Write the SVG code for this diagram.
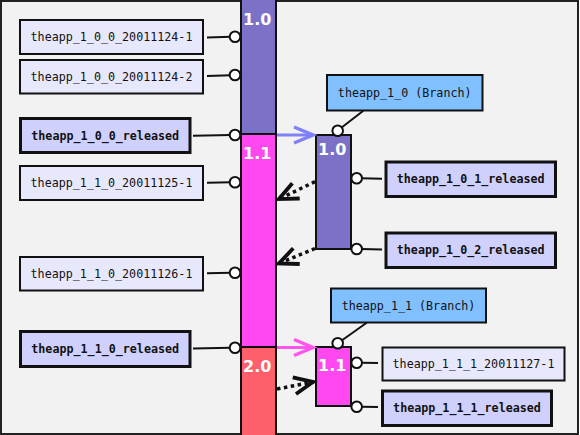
<svg xmlns="http://www.w3.org/2000/svg" width="580" height="435" viewBox="0 0 580 435">
<defs>
<style>
.bg{fill:#f2f2f2;stroke:#222;stroke-width:2}
.seg{stroke:#111;stroke-width:2}
.v10{fill:#7b72c8}
.v11{fill:#ff48f0}
.v20{fill:#ff5f6d}
.lbl{font-family:"DejaVu Sans",Verdana,sans-serif;font-weight:bold;font-size:16px;fill:#fff}
.tag{fill:#e8e8fc;stroke:#111;stroke-width:2}
.rel{fill:#d0d0fc;stroke:#111;stroke-width:3}
.br{fill:#80c0ff;stroke:#111;stroke-width:2}
.t{font-family:"DejaVu Sans Mono","Liberation Mono",monospace;font-size:11.7px;fill:#111;text-anchor:middle}
.tb{font-weight:bold}
.ln{stroke:#111;stroke-width:2;fill:none}
.pin{fill:#fff;stroke:#111;stroke-width:2}
.dot{stroke:#111;stroke-width:3.5;stroke-dasharray:3.5 3.5;fill:none}
</style>
<marker id="ahDot" markerUnits="userSpaceOnUse" markerWidth="40" markerHeight="40" viewBox="-20 -20 40 40" refX="0" refY="0" orient="auto" overflow="visible">
<path d="M-20,-8.5 L-1,0 L-20,8.5" fill="none" stroke="#111" stroke-width="3.8" stroke-linejoin="miter" stroke-miterlimit="10"/>
</marker>
<marker id="ahPurple" markerUnits="userSpaceOnUse" markerWidth="40" markerHeight="40" viewBox="-20 -20 40 40" refX="0" refY="0" orient="auto" overflow="visible">
<path d="M-19,-8 L0,0 L-19,8" fill="none" stroke="#8080f8" stroke-width="3.5"/>
</marker>
<marker id="ahMagenta" markerUnits="userSpaceOnUse" markerWidth="40" markerHeight="40" viewBox="-20 -20 40 40" refX="0" refY="0" orient="auto" overflow="visible">
<path d="M-19,-8 L0,0 L-19,8" fill="none" stroke="#ff55ee" stroke-width="3.5"/>
</marker>
</defs>
<rect class="bg" x="1" y="1" width="577" height="433"/>

<g id="trunk">
<g id="trunk-1.0"><rect class="seg v10" x="241" y="-3" width="35" height="137"/><text class="lbl" x="243" y="25">1.0</text></g>
<g id="trunk-1.1"><rect class="seg v11" x="241" y="134" width="35" height="213"/><text class="lbl" x="243" y="159">1.1</text></g>
<g id="trunk-2.0"><rect class="seg v20" x="241" y="347" width="35" height="92"/><text class="lbl" x="243" y="372">2.0</text></g>
</g>

<g id="branch-1.0"><rect class="seg v10" x="316" y="135" width="35" height="114"/><text class="lbl" x="318" y="155">1.0</text></g>
<g id="branch-1.1"><rect class="seg v11" x="316" y="347" width="35" height="59"/><text class="lbl" x="318" y="371">1.1</text></g>

<g id="connectors">
<line class="ln" x1="207" y1="37.4" x2="231" y2="36.8"/>
<line class="ln" x1="207" y1="76" x2="231" y2="75.2"/>
<line class="ln" x1="193" y1="135.8" x2="231" y2="135"/>
<line class="ln" x1="207" y1="182.8" x2="231" y2="182.2"/>
<line class="ln" x1="207" y1="273.3" x2="231" y2="272.7"/>
<line class="ln" x1="193" y1="348.5" x2="231" y2="347.7"/>
<line class="ln" x1="363.3" y1="110.7" x2="341" y2="128"/>
<line class="ln" x1="361" y1="178.3" x2="382" y2="178.8"/>
<line class="ln" x1="361" y1="249" x2="382" y2="249.6"/>
<line class="ln" x1="366.7" y1="322.7" x2="341" y2="341"/>
<line class="ln" x1="361" y1="362.7" x2="378" y2="363"/>
<line class="ln" x1="361" y1="406.7" x2="378" y2="407"/>
<line x1="277" y1="135" x2="313" y2="135" stroke="#8080f8" stroke-width="3" marker-end="url(#ahPurple)"/>
<line x1="277" y1="347.5" x2="313" y2="347.5" stroke="#ff55ee" stroke-width="3" marker-end="url(#ahMagenta)"/>
<line class="dot" x1="315" y1="181.7" x2="278" y2="199.5" marker-end="url(#ahDot)"/>
<line class="dot" x1="315" y1="248.5" x2="278" y2="263.8" marker-end="url(#ahDot)"/>
<line class="dot" x1="277" y1="389" x2="314" y2="381.8" marker-end="url(#ahDot)"/>
</g>

<g id="pins">
<circle class="pin" cx="235" cy="36.7" r="5.3"/>
<circle class="pin" cx="235" cy="75" r="5.3"/>
<circle class="pin" cx="235" cy="135" r="5.3"/>
<circle class="pin" cx="235" cy="182.2" r="5.3"/>
<circle class="pin" cx="235" cy="272.7" r="5.3"/>
<circle class="pin" cx="235" cy="347.7" r="5.3"/>
<circle class="pin" cx="337.7" cy="130.7" r="5.3"/>
<circle class="pin" cx="356.7" cy="178.3" r="5.3"/>
<circle class="pin" cx="356.7" cy="249" r="5.3"/>
<circle class="pin" cx="337.7" cy="343.3" r="5.3"/>
<circle class="pin" cx="356.7" cy="362.7" r="5.3"/>
<circle class="pin" cx="356.7" cy="406.7" r="5.3"/>
</g>

<g id="tag-1-0-0-20011124-1"><rect class="tag" x="20" y="20" width="183" height="34"/><text class="t" x="111.5" y="41">theapp_1_0_0_20011124-1</text></g>
<g id="tag-1-0-0-20011124-2"><rect class="tag" x="20" y="60" width="183" height="33.5"/><text class="t" x="111.5" y="80.8">theapp_1_0_0_20011124-2</text></g>
<g id="tag-1-0-0-released"><rect class="rel" x="20.5" y="118.5" width="169.5" height="34"/><text class="t tb" x="105.2" y="139.5">theapp_1_0_0_released</text></g>
<g id="tag-1-1-0-20011125-1"><rect class="tag" x="20" y="166" width="183" height="34"/><text class="t" x="111.5" y="187">theapp_1_1_0_20011125-1</text></g>
<g id="tag-1-1-0-20011126-1"><rect class="tag" x="20" y="257" width="183" height="33.5"/><text class="t" x="111.5" y="277.8">theapp_1_1_0_20011126-1</text></g>
<g id="tag-1-1-0-released"><rect class="rel" x="20.5" y="331.5" width="169.5" height="35"/><text class="t tb" x="105.2" y="352.8">theapp_1_1_0_released</text></g>

<g id="branch-1-0-label"><rect class="br" x="327" y="75" width="155.5" height="35.5"/><text class="t" x="404.7" y="96.7">theapp_1_0 (Branch)</text></g>
<g id="tag-1-0-1-released"><rect class="rel" x="386" y="162" width="169.5" height="34.5"/><text class="t tb" x="470.7" y="183.3">theapp_1_0_1_released</text></g>
<g id="tag-1-0-2-released"><rect class="rel" x="386" y="233" width="169.5" height="34.5"/><text class="t tb" x="470.7" y="254.3">theapp_1_0_2_released</text></g>

<g id="branch-1-1-label"><rect class="br" x="331" y="288.5" width="155" height="34"/><text class="t" x="408.5" y="309.5">theapp_1_1 (Branch)</text></g>
<g id="tag-1-1-1-20011127-1"><rect class="tag" x="382.5" y="347.5" width="182" height="33"/><text class="t" x="473.5" y="368">theapp_1_1_1_20011127-1</text></g>
<g id="tag-1-1-1-released"><rect class="rel" x="382.5" y="391" width="169" height="34.5"/><text class="t tb" x="467" y="412.3">theapp_1_1_1_released</text></g>
</svg>
